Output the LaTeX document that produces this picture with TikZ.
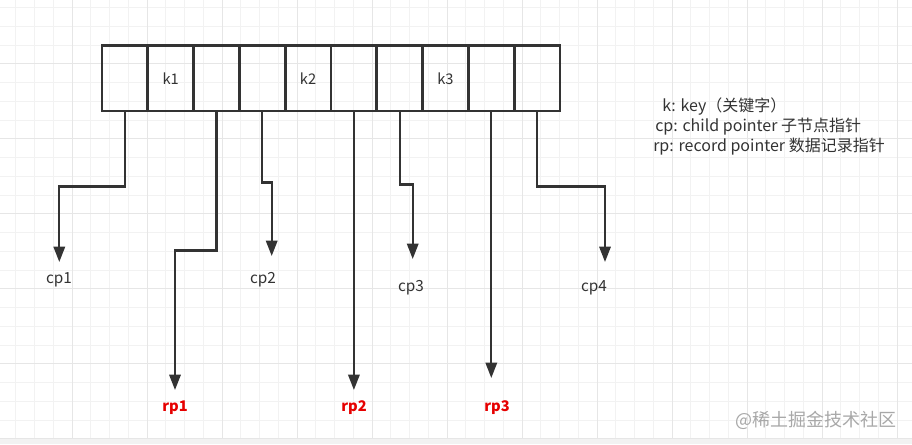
\documentclass[tikz,border=0pt]{standalone}
\usepackage{fontspec}
\setmainfont{Noto Sans CJK SC}
\usetikzlibrary{arrows.meta}
\definecolor{ink}{HTML}{333333}
\definecolor{gridminor}{HTML}{F2F2F2}
\definecolor{gridmajor}{HTML}{E6E6E6}
\definecolor{rpred}{HTML}{E60000}
\definecolor{wmark}{HTML}{A8A8A8}
\tikzset{
  cell/.style={draw=ink, line width=2.2pt, minimum width=34.35pt, minimum height=49pt, inner sep=0pt, font=\fontsize{11}{12}\selectfont, text=ink},
  conn/.style={draw=ink, line width=1.6pt, -{Triangle[width=8.5pt,length=11.5pt]}},
  cplabel/.style={font=\fontsize{11.5}{12}\selectfont, text=ink, inner sep=0pt},
  rplabel/.style={font=\fontsize{11}{12}\selectfont\bfseries, text=rpred, inner sep=0pt},
  legend/.style={font=\fontsize{12}{14}\selectfont, text=ink, inner sep=0pt, anchor=west},
}
\begin{document}
\begin{tikzpicture}[x=0.75pt,y=-0.75pt]
\useasboundingbox (0,0) rectangle (912,444);
\fill[white] (0,0) rectangle (912,444);
% grid
\foreach \i in {0,...,48} {
  \draw[gridminor, line width=0.75pt] ({15.75+18.75*\i},0) -- ({15.75+18.75*\i},444);
}
\foreach \i in {0,...,24} {
  \draw[gridminor, line width=0.75pt] (0,{7.5+18.75*\i}) -- (912,{7.5+18.75*\i});
}
\foreach \i in {0,...,12} {
  \draw[gridmajor, line width=0.75pt] ({72+75*\i},0) -- ({72+75*\i},444);
}
\foreach \i in {0,...,5} {
  \draw[gridmajor, line width=0.75pt] (0,{63+75*\i}) -- (912,{63+75*\i});
}
\fill[gridminor] (0,439) rectangle (912,444);
% cells
\node[cell] (c1) at (124.9,78.3) {};
\node[cell] (c2) at (170.7,78.3) {k1};
\node[cell] (c3) at (216.5,78.3) {};
\node[cell] (c4) at (262.3,78.3) {};
\node[cell] (c5) at (308.1,78.3) {k2};
\node[cell] (c6) at (353.9,78.3) {};
\node[cell] (c7) at (399.7,78.3) {};
\node[cell] (c8) at (445.5,78.3) {k3};
\node[cell] (c9) at (491.3,78.3) {};
\node[cell] (c10) at (537.1,78.3) {};
% arrow tips
\coordinate (t1) at (59.3,262);
\coordinate (t3) at (175,390);
\coordinate (t4) at (271.7,256);
\coordinate (t6) at (353.9,390);
\coordinate (t7) at (412.7,259);
\coordinate (t9) at (491.3,378);
\coordinate (t10) at (605,262);
% connectors
\draw[conn] (c1.south) -- ++(0,74) -| (t1);
\draw[conn] (c3.south) -- ++(0,138) -| (t3);
\draw[conn] (c4.south) -- ++(0,70) -| (t4);
\draw[conn] (c6.south) -- (t6);
\draw[conn] (c7.south) -- ++(0,72) -| (t7);
\draw[conn] (c9.south) -- (t9);
\draw[conn] (c10.south) -- ++(0,74) -| (t10);
% labels
\node[cplabel] (cp1) at (59,280) {cp1};
\node[cplabel] (cp2) at (263,280) {cp2};
\node[cplabel] (cp3) at (411,288) {cp3};
\node[cplabel] (cp4) at (594,288) {cp4};
\node[rplabel] (rp1) at (175,408) {rp1};
\node[rplabel] (rp2) at (354,408) {rp2};
\node[rplabel] (rp3) at (497,408) {rp3};
% legend
\node[legend] (lg1) at (662,107) {k: key（关键字）};
\node[legend] (lg2) at (655,127) {cp: child pointer 子节点指针};
\node[legend] (lg3) at (653,147) {rp: record pointer 数据记录指针};
% watermark
\node[font=\fontsize{13.5}{15}\selectfont, text=wmark, inner sep=0pt, anchor=west] (wm) at (735,420) {@稀土掘金技术社区};
\end{tikzpicture}
\end{document}
